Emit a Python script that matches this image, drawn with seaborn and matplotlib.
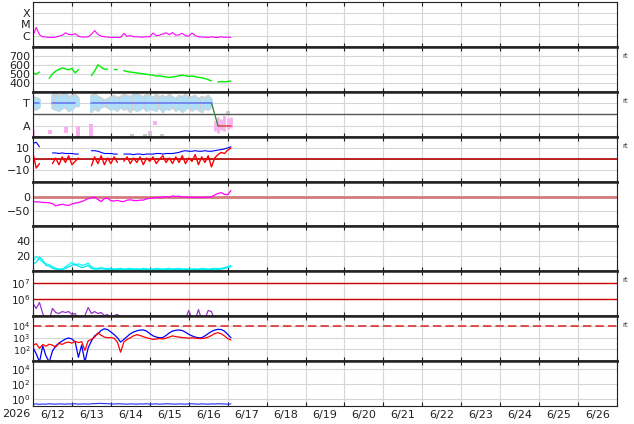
import numpy as np
import pandas as pd
import seaborn as sns
import matplotlib
matplotlib.use("Agg")
import matplotlib.pyplot as plt
import matplotlib.dates as mdates
from matplotlib.ticker import NullFormatter, NullLocator, FuncFormatter, FixedLocator, FixedFormatter

nan = np.nan

START = pd.Timestamp("2026-06-12 00:00")
END = pd.Timestamp("2026-06-27 00:00")
# one sample every 2 hours, 6/12 00:00 .. 6/17 02:00
times = pd.date_range(START, periods=62, freq="2h")

# x-ray flux (W/m2)
xray = [1.0e-6, 5.5e-6, 1.2e-6, 8e-7, 7.5e-7, 7e-7, 7e-7, 7.5e-7, 9e-7, 1.1e-6,
        1.8e-6, 1.3e-6, 1.2e-6, 1.5e-6, 9e-7, 7.5e-7, 7.5e-7, 8e-7, 1.3e-6, 2.8e-6,
        1.3e-6, 9e-7, 8e-7, 7.5e-7, 7e-7, 7e-7, 7e-7, 7e-7, 1.6e-6, 9e-7,
        1.0e-6, 8e-7, 8e-7, 7.5e-7, 7.5e-7, 8e-7, 8e-7, 1.7e-6, 1.0e-6, 1.1e-6,
        1.4e-6, 1.8e-6, 1.2e-6, 1.9e-6, 1.1e-6, 1.2e-6, 1.6e-6, 1.0e-6, 9e-7, 1.7e-6,
        1.0e-6, 8e-7, 7.5e-7, 7.5e-7, 7e-7, 8e-7, 7e-7, 7e-7, 8e-7, 7e-7,
        7.5e-7, 7e-7]

# solar wind speed (km/s)
speed = [510, 495, 520, nan, nan, 450, 500, 530, 550, 565,
         555, 545, 560, 510, 545, nan, nan, nan, 480, 530,
         600, 575, 550, 555, nan, 550, 545, nan, 535, 525,
         520, 515, 510, 505, 500, 495, 490, 485, 475, 478,
         470, 465, 460, 465, 470, 480, 485, 478, 472, 476,
         468, 462, 455, 448, 435, 420, nan, 410, 414, 410,
         415, 420]

# IMF sector (1 = toward, -1 = away) and spread of the angle samples
imf_sector = [1, 1, 1, nan, nan, nan] + [1] * 8 + [nan] * 4 + [1] * 38 + [nan] + [-1] * 5
imf_hi = [1.5, 1.4, 1.3, nan, nan, nan, 1.7, 1.8, 1.6, 1.7,
          1.8, 1.5, 1.6, 1.7, 1.4, nan, nan, nan, 1.6, 1.8,
          1.5, 1.4, 1.2, 1.3, 1.5, 1.6, 1.4, 1.5, 1.7, 1.6,
          1.5, 1.7, 1.8, 1.6, 1.5, 1.7, 1.6, 1.4, 1.7, 1.5,
          1.6, 1.4, 1.7, 1.5, 1.3, 1.6, 1.5, 1.7, 1.4, 1.5,
          1.6, 1.3, 1.5, 1.4, 1.6, 1.3, nan, nan, nan, nan,
          nan, nan]
imf_lo = [0.5, 0.4, 0.6, nan, nan, nan, 0.5, 0.4, 0.3, 0.5,
          0.6, 0.3, 0.4, 0.7, 0.7, nan, nan, nan, 0.2, 0.5,
          0.3, 0.6, 0.7, 0.6, 0.4, 0.5, 0.3, 0.6, 0.4, 0.5,
          0.2, 0.5, 0.3, 0.4, 0.6, 0.3, 0.5, 0.4, 0.3, 0.6,
          0.2, 0.5, 0.4, 0.6, 0.3, 0.5, 0.2, 0.4, 0.6, 0.3,
          0.5, 0.4, 0.2, 0.5, 0.4, 0.6, nan, nan, nan, nan,
          nan, nan]
away_hi = [nan] * 56 + [-0.6, -0.2, -0.4, -0.1, -0.3, -0.2]
away_lo = [nan] * 56 + [-1.5, -1.6, -1.4, -1.5, -1.3, -1.2]
stray_pink_hours = [0, 0, 10.5, 20.5, 20.5, 27.5, 27.5, 28, 35.5, 35.5, 36, 72, 75.5]
stray_pink_vals = [-1.55, -1.8, -1.55, -1.3, -1.5, -1.2, -1.55, -1.8, -1.0, -1.4, -1.75, -1.6, -0.75]
stray_gray_hours = [61, 69, 72, 79.5, 120]
stray_gray_vals = [-1.85, -1.85, -1.8, -1.85, 0.1]

# magnetic field (nT)
bt = [14, 15, 11, nan, nan, nan, 5.5, 5.5, 5, 5.5,
      5, 5, 5, 4.5, 4.5, nan, nan, nan, 7.5, 7.5,
      7, 6, 5, 5, 5, 4.5, 4.5, nan, 4.5, 4.5,
      4.5, 4, 4.5, 4.5, 4, 4.5, 4.5, 4.5, 5, 5,
      4.5, 5, 5, 5, 5.5, 6, 7, 7.5, 7, 7,
      7.5, 7, 7, 7.5, 7, 7, 7.5, 8, 8.5, 9,
      10, 11]
bz = [5, -8, -4, nan, nan, nan, -4, 1, -5, 2,
      -3, 3, -5, -2, 1, nan, nan, nan, -6, 2,
      -4, 3, -5, 1, -4, 2, -3, nan, -2, 2,
      -4, 1, -3, 2, -5, 1, -2, 2, -4, 0,
      3, -3, 1, -4, 2, -3, 3, -4, 1, -2,
      4, -5, 2, -3, 3, -7, 1, 4, 6, 5,
      8, 10]

# Dst (nT)
dst = [-17, -18, -18, -20, -20, -21, -24, -31, -28, -26,
       -28, -30, -25, -22, -20, -17, -12, -7, -4, -2,
       -10, -17, -7, -6, -14, -15, -13, -16, -17, -12,
       -11, -13, -14, -12, -12, -8, -6, -5, -3, -4,
       -2, 0, -3, 2, 0, 1, -2, -1, -3, -2,
       -3, -3, -3, -2, -2, -1, 5, 10, 13, 7,
       6, 20]

# density (p/cc), two sources
dens_a = [14, 20, 16, 12, 10, 9, 6, 4, 3, 3,
          6, 9, 12, 8, 10, 8, 9, 11, 6, 4,
          4, 5, 4, 3.5, 4, 3, 3.5, 4, 3, 3.5,
          4, 3, 3.5, 3, 4, 3.5, 3, 3, 4, 3.5,
          3, 3.5, 4, 3, 3.5, 4, 3, 3.5, 3, 3,
          3.5, 3, 4, 3.5, 3, 3.5, 4, 3.5, 4, 5,
          6, 8]
dens_b = [10, 12, 19, 15, 8, 7, 4, 3, 2.5, 2.5,
          4, 6, 8, 10, 7, 5, 6, 8, 4, 3,
          3, 3.5, 3, 2.5, 3, 2.5, 2.5, 3, 2, 2.5,
          3, 2.5, 2.5, 2, 3, 2.5, 2, 2.5, 3, 2.5,
          2, 2.5, 3, 2.5, 2.5, 3, 2, 2.5, 2, 2.5,
          2.5, 2, 3, 2.5, 2, 2.5, 3, 2.5, 3, 4,
          5, 6]

# electron flux
proton = [5.8e5, 2.9e5, 6.6e5, 1.45e5, 6e4, 6e4, 2.9e5, 1.66e5, 1.45e5, 1.9e5,
          1.66e5, 1.9e5, 1.27e5, 1.45e5, 6e4, 6e4, 1.1e5, 3.3e5, 1.45e5, 1.9e5,
          1.45e5, 1.66e5, 1.1e5, 1.27e5, 6e4, 1.1e5, 1.27e5, 9.6e4, 6e4, 8e4,
          7e4, 9e4, 7e4, 1.05e5, 8e4, 7e4, 9e4, 1.1e5, 7e4, 6e4,
          6e4, 6e4, 6e4, 6e4, 6e4, 6e4, 6e4, 7e4, 2.2e5, 7e4,
          6e4, 2.5e5, 6e4, 7e4, 2.2e5, 1.9e5, 6e4, 6e4, 6e4, 6e4,
          6e4, 6e4]

# particle flux, two channels
flux_blue = [140, 40, 8, 190, 27, 8, 70, 190, 340, 500,
             750, 920, 750, 420, 20, 230, 8, 130, 500, 1400,
             2100, 4100, 5700, 4800, 3000, 1800, 960, 410, 690, 1200,
             2100, 3000, 3800, 4400, 4500, 3600, 2200, 1400, 1100, 960,
             1000, 1500, 2500, 3600, 4200, 4500, 4000, 2900, 1900, 1400,
             1100, 960, 960, 1400, 2200, 3300, 4400, 5100, 4900, 3600,
             1900, 960]
flux_red = [210, 300, 120, 250, 180, 270, 220, 150, 320, 260,
            360, 410, 330, 480, 370, 440, 80, 520, 690, 1100,
            2500, 1600, 1100, 960, 1000, 890, 410, 55, 410, 690,
            960, 1400, 1800, 1500, 1200, 960, 820, 690, 750, 820,
            750, 890, 1100, 1400, 1200, 1100, 1000, 960, 890, 960,
            890, 820, 820, 890, 1100, 1500, 2200, 2600, 2100, 1400,
            820, 620]

low_flux = [0.22, 0.24, 0.21, 0.23, 0.22, 0.25, 0.23, 0.22, 0.24, 0.23,
            0.22, 0.24, 0.23, 0.25, 0.22, 0.23, 0.24, 0.22, 0.25, 0.26,
            0.27, 0.28, 0.26, 0.25, 0.24, 0.23, 0.25, 0.24, 0.23, 0.22,
            0.24, 0.23, 0.22, 0.24, 0.23, 0.25, 0.22, 0.23, 0.24, 0.22,
            0.23, 0.25, 0.24, 0.23, 0.22, 0.24, 0.23, 0.22, 0.24, 0.25,
            0.23, 0.22, 0.24, 0.23, 0.22, 0.24, 0.23, 0.25, 0.24, 0.23,
            0.22, 0.24]


def draw_line(ax, values, color, lw=0.9):
    # gaps (nan) split the line into separate units
    df = pd.DataFrame({"time": times, "value": values})
    df["seg"] = df["value"].isna().cumsum()
    df = df.dropna()
    sns.lineplot(data=df, x="time", y="value", units="seg", estimator=None,
                 color=color, linewidth=lw, ax=ax, legend=False)


def set_yticks(ax, ticks, labels=None, size=8):
    ax.yaxis.set_major_locator(FixedLocator(ticks))
    ax.yaxis.set_minor_locator(NullLocator())
    if labels is None:
        labels = [f"{t:g}".replace("-", "\u2212") for t in ticks]
    ax.yaxis.set_major_formatter(FixedFormatter(labels))
    ax.yaxis.set_minor_formatter(NullFormatter())
    ax.tick_params(axis="y", labelsize=size)


sns.set_theme(style="white")
plt.rcParams["font.family"] = ["DejaVu Sans"]

fig, axes = plt.subplots(9, 1, figsize=(6.34, 4.24), dpi=100, sharex=True)
fig.subplots_adjust(left=33 / 634, right=617 / 634, top=1 - 2 / 424,
                    bottom=1 - 406 / 424, hspace=0)

for ax in axes[[0, 6, 7, 8]]:
    ax.set_yscale("log")

# 1 x-ray
ax = axes[0]
draw_line(ax, xray, "#ff00ff", 0.8)
ax.set_ylim(1e-7, 1e-3)
set_yticks(ax, [1e-4, 1e-5, 1e-6], ["X", "M", "C"])

# 2 speed
ax = axes[1]
draw_line(ax, speed, "#00ee00", 1.0)
ax.set_ylim(300, 800)
set_yticks(ax, [400, 500, 600, 700])

# 3 sector
ax = axes[2]
ax.fill_between(times, imf_lo, imf_hi, color="#cfcfcf", edgecolor="#cfcfcf", lw=1.6, zorder=1)
ax.vlines(times, imf_lo, imf_hi, color="#aee0fa", lw=2.0, zorder=1.5)
ax.vlines(times, away_lo, away_hi, color="#f7b0f0", lw=2.0, zorder=1.5)
pink_t = START + pd.to_timedelta(stray_pink_hours, unit="h")
gray_t = START + pd.to_timedelta(stray_gray_hours, unit="h")
sns.scatterplot(x=pink_t, y=stray_pink_vals, color="#f7b0f0", marker="s", s=5, linewidth=0, ax=ax)
sns.scatterplot(x=gray_t, y=stray_gray_vals, color="#c8c8c8", marker="s", s=5, linewidth=0, ax=ax)
sec = np.array(imf_sector, dtype=float)
draw_line(ax, np.where(sec > 0, sec, nan), "#6a78f0", 1.2)
draw_line(ax, np.where(sec < 0, sec, nan), "#e05050", 1.2)
# switch from toward to away
i_on = int(np.where(sec < 0)[0][0])
i_off = int(np.where(sec[:i_on] > 0)[0][-1])
ax.plot(times[[i_off, i_on]], sec[[i_off, i_on]], color="#3c8c3c", lw=1.0)
ax.axhline(0, color="#555555", lw=1.0, zorder=1.2)
ax.set_ylim(-1.95, 1.95)
set_yticks(ax, [1, -1], ["T", "A"])

# 4 field
ax = axes[3]
ax.axhline(0, color="#b00000", lw=1.2, zorder=1.2)
draw_line(ax, bt, "#0000ff", 0.8)
draw_line(ax, bz, "#ff0000", 1.0)
ax.set_ylim(-20, 20)
set_yticks(ax, [10, 0, -10])

# 5 dst
ax = axes[4]
ax.axhline(0, color="#d27b7b", lw=2.0, zorder=1.2)
draw_line(ax, dst, "#ff00ff", 0.9)
ax.set_ylim(-100, 50)
set_yticks(ax, [0, -50])

# 6 density
ax = axes[5]
draw_line(ax, dens_a, "#00ffff", 0.9)
draw_line(ax, dens_b, "#00e5ee", 0.9)
ax.set_ylim(0, 60)
set_yticks(ax, [20, 40])

# 7 electrons
ax = axes[6]
for level in (1e7, 1e6):
    ax.axhline(level, color="#cc0000", lw=1.0, zorder=1.2)
draw_line(ax, proton, "#9933cc", 0.9)
ax.set_ylim(1e5, 4.7e7)
set_yticks(ax, [1e7, 1e6], [r"$10^{7}$", r"$10^{6}$"], 7.5)

# 8 flux
ax = axes[7]
ax.axhline(1e4, color="#dd3333", lw=1.2, ls=(0, (5, 2.5)), zorder=1.2)
draw_line(ax, flux_blue, "#0000ff", 0.9)
draw_line(ax, flux_red, "#ff0000", 0.9)
ax.set_ylim(9.5, 6.8e4)
set_yticks(ax, [1e4, 1e3, 1e2], [r"$10^{4}$", r"$10^{3}$", r"$10^{2}$"], 6.8)

# 9 low flux
ax = axes[8]
draw_line(ax, low_flux, "#2030ff", 0.8)
ax.set_ylim(0.126, 1e5)
set_yticks(ax, [1e4, 1e2, 1], [r"$10^{4}$", r"$10^{2}$", r"$10^{0}$"], 7.5)

for i, ax in enumerate(axes):
    ax.set_xlabel("")
    ax.set_ylabel("")
    ax.set_xlim(START, END)
    ax.grid(False, which="minor")
    ax.grid(True, which="major", color="#d6d6d6", linewidth=0.8)
    ax.set_axisbelow(True)
    for side in ("left", "right"):
        ax.spines[side].set_linewidth(0.8)
        ax.spines[side].set_color("#222222")
    ax.spines["top"].set_linewidth(1.8 if i > 0 else 0.8)
    ax.spines["bottom"].set_linewidth(1.8 if i < 8 else 0.8)
    ax.spines["top"].set_color("#222222")
    ax.spines["bottom"].set_color("#222222")
    ax.tick_params(axis="y", length=0, pad=2, labelcolor="#222222")
    ax.tick_params(axis="x", which="major", direction="in", length=3, width=0.8,
                   top=True, bottom=True, color="#222222")
    ax.tick_params(axis="x", which="minor", length=0, labelsize=8, pad=3,
                   labelcolor="#222222")

axes[-1].xaxis.set_major_locator(mdates.DayLocator())
axes[-1].xaxis.set_major_formatter(NullFormatter())
axes[-1].xaxis.set_minor_locator(mdates.HourLocator(byhour=12))
axes[-1].xaxis.set_minor_formatter(
    FuncFormatter(lambda v, pos: f"{mdates.num2date(v).month}/{mdates.num2date(v).day}"))

for i in (1, 2, 3, 6, 7):
    axes[i].text(1.0137, 0.8, "rt", transform=axes[i].transAxes, fontsize=5,
                 ha="center", va="center", color="#333333")

fig.text(30 / 634, 1 - 414 / 424, "2026", ha="right", va="center", fontsize=8, color="#222222")

fig.savefig("out.png", dpi=100)
